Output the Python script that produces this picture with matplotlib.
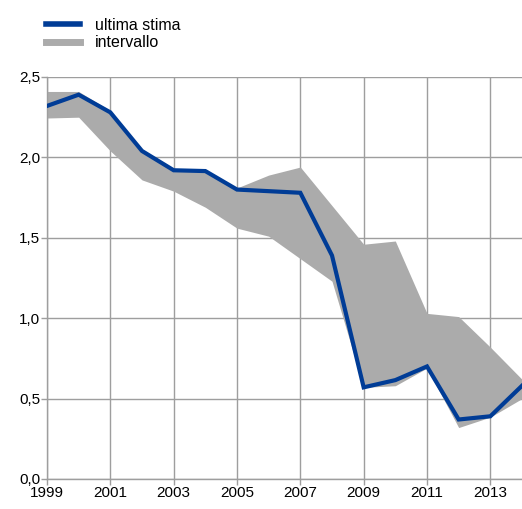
import numpy as np
import matplotlib
matplotlib.use("Agg")
import matplotlib.pyplot as plt
from matplotlib.lines import Line2D
from matplotlib.ticker import FuncFormatter

plt.rcParams["font.family"] = ["Liberation Sans", "DejaVu Sans"]

# ───────────────────────── Data ─────────────────────────
years = [1999, 2000, 2001, 2002, 2003, 2004, 2005, 2006, 2007, 2008,
         2009, 2010, 2011, 2012, 2013, 2014]
ultima_stima = [2.32, 2.39, 2.28, 2.04, 1.92, 1.915, 1.80, 1.79, 1.78, 1.39,
                0.57, 0.615, 0.70, 0.37, 0.39, 0.58]
interv_upper = [2.41, 2.41, 2.29, 2.05, 1.93, 1.92, 1.81, 1.89, 1.94, 1.70,
                1.46, 1.48, 1.03, 1.01, 0.82, 0.62]
interv_lower = [2.245, 2.25, 2.04, 1.86, 1.79, 1.69, 1.56, 1.51, 1.37, 1.23,
                0.57, 0.58, 0.69, 0.32, 0.385, 0.50]

x_ticks = [1999, 2001, 2003, 2005, 2007, 2009, 2011, 2013]
y_ticks = [0.0, 0.5, 1.0, 1.5, 2.0, 2.5]

blue = "#003c96"
fill_grey = "#ababab"
grid_grey = "#9e9e9e"

# ───────────────────────── Plot ─────────────────────────
fig = plt.figure(figsize=(5.22, 5.09), dpi=100)
ax = fig.add_axes([47 / 522, 1 - 479 / 509, 1 - 47 / 522, (479 - 77) / 509])

ax.fill_between(years, interv_lower, interv_upper, color=fill_grey, lw=0, zorder=2)
ax.plot(years, ultima_stima, color=blue, lw=3, solid_joinstyle="miter", zorder=3)

ax.set_xlim(1999, 2014)
ax.set_ylim(0, 2.5)
ax.set_xticks(x_ticks)
ax.set_yticks(y_ticks)
ax.yaxis.set_major_formatter(FuncFormatter(lambda v, p: f"{v:.1f}".replace(".", ",")))

ax.grid(True, color=grid_grey, lw=1)
ax.set_axisbelow(True)
for side in ["top", "right"]:
    ax.spines[side].set_visible(False)
for side in ["left", "bottom"]:
    ax.spines[side].set_color(grid_grey)
    ax.spines[side].set_linewidth(1)
ax.tick_params(axis="both", colors=grid_grey, length=4, width=1, labelsize=11,
               labelcolor="black", pad=1)

handles = [Line2D([], [], color=blue, lw=4),
           Line2D([], [], color=fill_grey, lw=5)]
fig.legend(handles, ["ultima stima", "intervallo"], loc="upper left",
           bbox_to_anchor=(46 / 522, 1 - 18 / 509), frameon=False,
           fontsize=11.5, borderpad=0, borderaxespad=0, handlelength=2.1,
           handletextpad=0.95, labelspacing=0.15)

fig.savefig("out.png", dpi=100)
